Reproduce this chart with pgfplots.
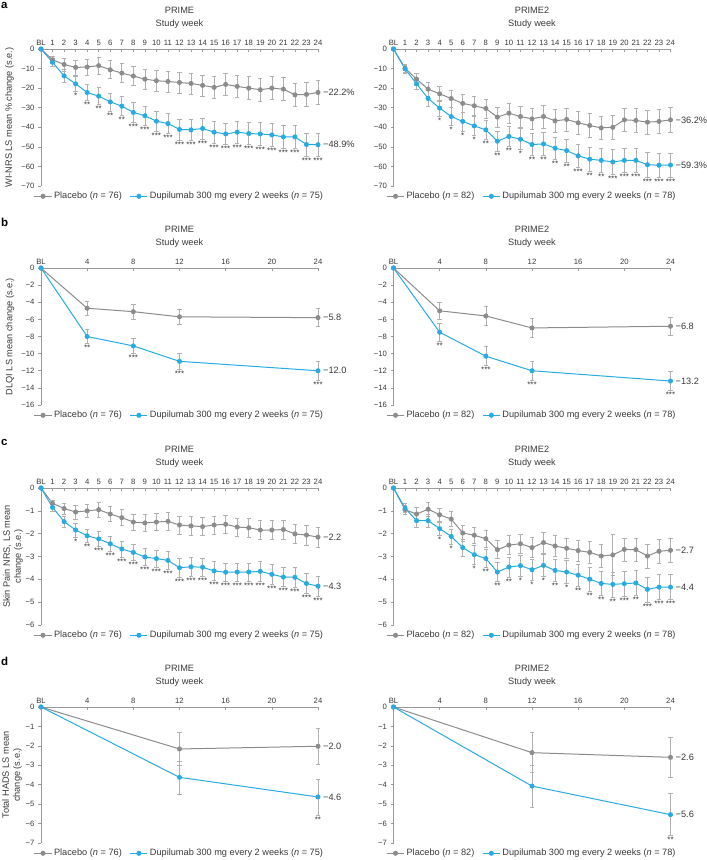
\documentclass[border=0pt]{standalone}
\usepackage{pgfplots}
\pgfplotsset{compat=1.18}
\usepackage{pgfplotstable}
\usepackage{fontspec}
\setmainfont{Liberation Sans}
\definecolor{pgray}{HTML}{8C8C8C}
\definecolor{ebgray}{HTML}{B0B0B0}
\definecolor{dblue}{HTML}{29ABE2}
\definecolor{axgray}{HTML}{9A9A9A}
\definecolor{txt}{HTML}{3A3A3A}

% ---------- Panel a: WI-NRS ----------
\pgfplotstableread{
x y e
0 0 0
1 -5.5 2.0
2 -7.9 3.3
3 -9.4 3.8
4 -9.2 4.0
5 -8.5 4.3
6 -10.6 4.6
7 -12.3 4.8
8 -13.8 5.0
9 -15.4 5.1
10 -16.2 5.2
11 -16.6 5.4
12 -17.1 5.4
13 -17.6 5.4
14 -18.6 5.4
15 -19.6 5.5
16 -18.1 5.5
17 -19.1 5.7
18 -20.0 5.8
19 -20.8 5.8
20 -20.0 5.8
21 -20.5 5.8
22 -23.4 6.0
23 -23.2 6.0
24 -22.2 6.0
}\aPp
\pgfplotstableread{
x y e s
0 0 0 {}
1 -6.8 2.0 {}
2 -13.7 3.4 {}
3 -17.8 3.8 *
4 -22.2 4.0 **
5 -24.1 4.3 **
6 -27.0 4.6 **
7 -29.2 4.8 **
8 -32.4 5.0 ***
9 -34.1 5.0 ***
10 -36.9 5.2 ***
11 -38.1 5.2 ***
12 -41.1 5.3 ***
13 -41.3 5.3 ***
14 -40.6 5.3 ***
15 -42.5 5.5 ***
16 -43.4 5.5 ***
17 -42.5 5.5 ***
18 -43.2 5.7 ***
19 -43.4 5.8 ***
20 -43.9 5.8 ***
21 -44.9 5.8 ***
22 -44.9 6.0 ***
23 -48.8 5.8 ***
24 -48.9 5.8 ***
}\aPd
\pgfplotstableread{
x y e
0 0 0
1 -9.8 2.0
2 -15.4 3.0
3 -20.5 3.5
4 -22.9 4.0
5 -25.3 4.3
6 -27.8 4.5
7 -29.0 4.8
8 -30.4 4.8
9 -34.8 5.0
10 -32.8 5.2
11 -34.5 5.3
12 -35.7 5.5
13 -34.5 5.8
14 -36.7 5.8
15 -36.0 5.8
16 -37.7 6.0
17 -39.1 6.0
18 -40.3 6.0
19 -40.0 6.0
20 -36.2 6.0
21 -36.5 6.0
22 -37.4 6.0
23 -37.0 6.0
24 -36.2 6.3
}\aQp
\pgfplotstableread{
x y e s
0 0 0 {}
1 -10.2 2.0 {}
2 -17.8 3.0 {}
3 -25.3 4.0 {}
4 -30.2 4.0 *
5 -34.5 4.5 *
6 -37.0 4.8 *
7 -39.3 5.0 *
8 -41.3 5.0 **
9 -47.1 5.0 **
10 -44.7 5.2 **
11 -46.1 5.4 *
12 -48.8 5.5 **
13 -48.5 5.8 **
14 -50.7 5.8 **
15 -51.9 5.8 **
16 -54.6 6.0 ***
17 -56.3 6.2 **
18 -56.9 6.2 **
19 -57.7 6.2 ***
20 -56.9 6.2 ***
21 -56.9 6.2 ***
22 -59.1 6.2 ***
23 -59.4 6.2 ***
24 -59.3 6.2 ***
}\aQd

% ---------- Panel b: DLQI ----------
\pgfplotstableread{
x y e
0 0 0
4 -4.7 0.8
8 -5.1 0.9
12 -5.7 0.9
24 -5.8 1.05
}\bPp
\pgfplotstableread{
x y e s
0 0 0 {}
4 -8.0 0.8 **
8 -9.1 0.9 ***
12 -10.9 0.9 ***
24 -12.0 1.1 ***
}\bPd
\pgfplotstableread{
x y e
0 0 0
4 -5.0 1.0
8 -5.6 1.1
12 -7.0 1.1
24 -6.8 1.1
}\bQp
\pgfplotstableread{
x y e s
0 0 0 {}
4 -7.5 1.05 **
8 -10.3 1.1 ***
12 -12.0 1.1 ***
24 -13.2 1.1 ***
}\bQd

% ---------- Panel c: Skin pain NRS ----------
\pgfplotstableread{
x y e
0 0 0
1 -0.67 0.15
2 -0.90 0.25
3 -1.05 0.30
4 -1.00 0.30
5 -0.95 0.32
6 -1.14 0.33
7 -1.30 0.35
8 -1.49 0.35
9 -1.53 0.37
10 -1.49 0.38
11 -1.46 0.40
12 -1.62 0.40
13 -1.66 0.40
14 -1.69 0.40
15 -1.62 0.40
16 -1.59 0.40
17 -1.71 0.40
18 -1.74 0.40
19 -1.84 0.42
20 -1.84 0.42
21 -1.82 0.42
22 -2.01 0.43
23 -2.06 0.43
24 -2.15 0.45
}\cPp
\pgfplotstableread{
x y e s
0 0 0 {}
1 -0.85 0.15 {}
2 -1.47 0.25 {}
3 -1.84 0.30 *
4 -2.09 0.30 **
5 -2.23 0.32 ***
6 -2.44 0.33 ***
7 -2.67 0.35 ***
8 -2.82 0.35 ***
9 -3.02 0.37 ***
10 -3.09 0.38 ***
11 -3.17 0.40 ***
12 -3.49 0.40 ***
13 -3.45 0.40 ***
14 -3.47 0.40 ***
15 -3.63 0.40 ***
16 -3.69 0.40 ***
17 -3.68 0.40 ***
18 -3.68 0.40 ***
19 -3.65 0.42 ***
20 -3.78 0.42 ***
21 -3.90 0.42 ***
22 -3.91 0.43 ***
23 -4.18 0.43 ***
24 -4.30 0.43 ***
}\cPd
\pgfplotstableread{
x y e
0 0 0
1 -0.95 0.20
2 -1.14 0.28
3 -0.93 0.30
4 -1.17 0.30
5 -1.36 0.33
6 -1.97 0.35
7 -2.07 0.37
8 -2.22 0.38
9 -2.70 0.40
10 -2.50 0.42
11 -2.44 0.43
12 -2.61 0.43
13 -2.39 0.45
14 -2.54 0.45
15 -2.64 0.45
16 -2.74 0.47
17 -2.82 0.48
18 -2.98 0.50
19 -2.93 0.90
20 -2.69 0.50
21 -2.70 0.50
22 -2.98 0.52
23 -2.77 0.52
24 -2.73 0.52
}\cQp
\pgfplotstableread{
x y e s
0 0 0 {}
1 -0.88 0.20 {}
2 -1.43 0.28 {}
3 -1.43 0.30 {}
4 -1.78 0.30 *
5 -2.12 0.33 *
6 -2.61 0.38 {}
7 -2.92 0.40 *
8 -3.09 0.40 **
9 -3.68 0.42 **
10 -3.46 0.43 **
11 -3.40 0.45 *
12 -3.58 0.47 *
13 -3.39 0.47 *
14 -3.61 0.48 **
15 -3.68 0.50 *
16 -3.82 0.50 **
17 -3.99 0.52 **
18 -4.18 0.52 **
19 -4.22 0.55 **
20 -4.19 0.55 ***
21 -4.16 0.55 **
22 -4.44 0.55 ***
23 -4.34 0.55 ***
24 -4.34 0.55 ***
}\cQd

% ---------- Panel d: HADS ----------
\pgfplotstableread{
x y e
0 0 0
12 -2.16 0.85
24 -2.02 0.93
}\dPp
\pgfplotstableread{
x y e s
0 0 0 {}
12 -3.62 0.85 {}
24 -4.63 0.93 **
}\dPd
\pgfplotstableread{
x y e
0 0 0
12 -2.35 1.03
24 -2.59 1.03
}\dQp
\pgfplotstableread{
x y e s
0 0 0 {}
12 -4.07 1.08 {}
24 -5.54 1.08 **
}\dQd

\pgfplotsset{
  panel/.style={
    scale only axis, width=277pt, height=137pt, anchor=north west,
    xmin=0, xmax=24, ymax=0, clip=false,
    axis x line*=top, axis y line*=left,
    axis line style={draw=axgray, line width=0.6pt, -},
    tick style={draw=axgray, line width=0.6pt},
    major tick length=3pt,
    xtick align=inside, ytick align=outside,
    tick label style={font=\fontsize{7.7}{9}\selectfont, text=txt},
    legend style={at={(0.5,0)}, anchor=north, yshift=-2pt, draw=none, fill=none,
      font=\fontsize{9.2}{11}\selectfont, text=txt,
      /tikz/every even column/.append style={column sep=6pt}},
    legend columns=2,
  },
  weekly/.style={xtick={0,...,24},
    xticklabels={BL,1,2,3,4,5,6,7,8,9,10,11,12,13,14,15,16,17,18,19,20,21,22,23,24}},
  monthly/.style={xtick={0,4,...,24}, xticklabels={BL,4,8,12,16,20,24}},
  pl/.style={color=pgray, line width=1pt, mark=*, mark size=2pt,
    mark options={solid, fill=pgray},
    error bars/.cd, y dir=both, y explicit,
    error bar style={draw=ebgray, line width=0.6pt},
    error mark options={rotate=90, draw=ebgray, mark size=2.2pt, line width=0.6pt}},
  du/.style={color=dblue, line width=1pt, mark=*, mark size=2pt,
    mark options={solid, fill=dblue},
    error bars/.cd, y dir=both, y explicit,
    error bar style={draw=ebgray, line width=0.6pt},
    error mark options={rotate=90, draw=ebgray, mark size=2.2pt, line width=0.6pt}},
  st/.style={only marks, mark=none, forget plot, nodes near coords,
    point meta=explicit symbolic,
    every node near coord/.append style={font=\fontsize{8}{8}\selectfont, text=txt,
      anchor=north, inner sep=0pt, yshift=-1.5pt}},
}
\newcommand{\elab}[2]{\node[anchor=west, font=\fontsize{9.2}{11}\selectfont, text=txt, inner sep=1pt] at (axis cs:24,#1) [xshift=4pt] {#2};}
\newcommand{\tfont}{\fontsize{9.2}{11}\selectfont}

\begin{document}
\begin{tikzpicture}
\useasboundingbox (0,0) rectangle (707pt,-860pt);

% ===== a =====
\begin{axis}[panel, weekly, at={(41pt,-49pt)}, ymin=-70,
  ytick={-70,-60,...,0}, yticklabels={−70,−60,−50,−40,−30,−20,−10,0}]
\addplot[pl] table[x=x,y=y,y error=e]{\aPp};
\addplot[du] table[x=x,y=y,y error=e]{\aPd};
\addplot[st] table[x=x,y expr=\thisrow{y}-\thisrow{e},meta=s]{\aPd};
\elab{-22.2}{−22.2\%}
\elab{-48.9}{−48.9\%}
\legend{Placebo (\textit{n} = 76), Dupilumab 300 mg every 2 weeks (\textit{n} = 75)}
\end{axis}
\begin{axis}[panel, weekly, at={(393.5pt,-49pt)}, ymin=-70,
  ytick={-70,-60,...,0}, yticklabels={−70,−60,−50,−40,−30,−20,−10,0}]
\addplot[pl] table[x=x,y=y,y error=e]{\aQp};
\addplot[du] table[x=x,y=y,y error=e]{\aQd};
\addplot[st] table[x=x,y expr=\thisrow{y}-\thisrow{e},meta=s]{\aQd};
\elab{-36.2}{−36.2\%}
\elab{-59.3}{−59.3\%}
\legend{Placebo (\textit{n} = 82), Dupilumab 300 mg every 2 weeks (\textit{n} = 78)}
\end{axis}

% ===== b =====
\begin{axis}[panel, monthly, at={(41pt,-268pt)}, ymin=-16,
  ytick={-16,-14,...,0}, yticklabels={−16,−14,−12,−10,−8,−6,−4,−2,0}]
\addplot[pl] table[x=x,y=y,y error=e]{\bPp};
\addplot[du] table[x=x,y=y,y error=e]{\bPd};
\addplot[st] table[x=x,y expr=\thisrow{y}-\thisrow{e},meta=s]{\bPd};
\elab{-5.8}{−5.8}
\elab{-12.0}{−12.0}
\legend{Placebo (\textit{n} = 76), Dupilumab 300 mg every 2 weeks (\textit{n} = 75)}
\end{axis}
\begin{axis}[panel, monthly, at={(393.5pt,-268pt)}, ymin=-16,
  ytick={-16,-14,...,0}, yticklabels={−16,−14,−12,−10,−8,−6,−4,−2,0}]
\addplot[pl] table[x=x,y=y,y error=e]{\bQp};
\addplot[du] table[x=x,y=y,y error=e]{\bQd};
\addplot[st] table[x=x,y expr=\thisrow{y}-\thisrow{e},meta=s]{\bQd};
\elab{-6.8}{−6.8}
\elab{-13.2}{−13.2}
\legend{Placebo (\textit{n} = 82), Dupilumab 300 mg every 2 weeks (\textit{n} = 78)}
\end{axis}

% ===== c =====
\begin{axis}[panel, weekly, at={(41pt,-488pt)}, ymin=-6,
  ytick={-6,...,0}, yticklabels={−6,−5,−4,−3,−2,−1,0}]
\addplot[pl] table[x=x,y=y,y error=e]{\cPp};
\addplot[du] table[x=x,y=y,y error=e]{\cPd};
\addplot[st] table[x=x,y expr=\thisrow{y}-\thisrow{e},meta=s]{\cPd};
\elab{-2.15}{−2.2}
\elab{-4.3}{−4.3}
\legend{Placebo (\textit{n} = 76), Dupilumab 300 mg every 2 weeks (\textit{n} = 75)}
\end{axis}
\begin{axis}[panel, weekly, at={(393.5pt,-488pt)}, ymin=-6,
  ytick={-6,...,0}, yticklabels={−6,−5,−4,−3,−2,−1,0}]
\addplot[pl] table[x=x,y=y,y error=e]{\cQp};
\addplot[du] table[x=x,y=y,y error=e]{\cQd};
\addplot[st] table[x=x,y expr=\thisrow{y}-\thisrow{e},meta=s]{\cQd};
\elab{-2.73}{−2.7}
\elab{-4.34}{−4.4}
\legend{Placebo (\textit{n} = 82), Dupilumab 300 mg every 2 weeks (\textit{n} = 78)}
\end{axis}

% ===== d =====
\begin{axis}[panel, monthly, at={(41pt,-707pt)}, height=136pt, ymin=-7,
  ytick={-7,...,0}, yticklabels={−7,−6,−5,−4,−3,−2,−1,0}]
\addplot[pl] table[x=x,y=y,y error=e]{\dPp};
\addplot[du] table[x=x,y=y,y error=e]{\dPd};
\addplot[st] table[x=x,y expr=\thisrow{y}-\thisrow{e},meta=s]{\dPd};
\elab{-2.02}{−2.0}
\elab{-4.63}{−4.6}
\legend{Placebo (\textit{n} = 76), Dupilumab 300 mg every 2 weeks (\textit{n} = 75)}
\end{axis}
\begin{axis}[panel, monthly, at={(393.5pt,-707pt)}, height=136pt, ymin=-7,
  ytick={-7,...,0}, yticklabels={−7,−6,−5,−4,−3,−2,−1,0}]
\addplot[pl] table[x=x,y=y,y error=e]{\dQp};
\addplot[du] table[x=x,y=y,y error=e]{\dQd};
\addplot[st] table[x=x,y expr=\thisrow{y}-\thisrow{e},meta=s]{\dQd};
\elab{-2.59}{−2.6}
\elab{-5.54}{−5.6}
\legend{Placebo (\textit{n} = 82), Dupilumab 300 mg every 2 weeks (\textit{n} = 78)}
\end{axis}

% ===== titles, labels, panel letters =====
\foreach \yy in {0, 219, 439, 658}{
  \node[font=\tfont, text=txt] at (179.5pt,-10pt-\yy pt) {PRIME};
  \node[font=\tfont, text=txt] at (179.5pt,-24.5pt-\yy pt) {Study week};
  \node[font=\tfont, text=txt] at (532pt,-10pt-\yy pt) {PRIME2};
  \node[font=\tfont, text=txt] at (532pt,-24.5pt-\yy pt) {Study week};
}
\node[anchor=base west, inner sep=0pt, font=\bfseries\fontsize{11.5}{12}\selectfont] at (1pt,-8.5pt) {a};
\node[anchor=base west, inner sep=0pt, font=\bfseries\fontsize{11.5}{12}\selectfont] at (1pt,-226pt) {b};
\node[anchor=base west, inner sep=0pt, font=\bfseries\fontsize{11.5}{12}\selectfont] at (1pt,-445.5pt) {c};
\node[anchor=base west, inner sep=0pt, font=\bfseries\fontsize{11.5}{12}\selectfont] at (1pt,-665pt) {d};

\node[rotate=90, font=\tfont, text=txt] at (9.5pt,-117.5pt) {WI-NRS LS mean \% change (s.e.)};
\node[rotate=90, font=\tfont, text=txt] at (10pt,-336.5pt) {DLQI LS mean change (s.e.)};
\node[rotate=90, font=\tfont, text=txt, align=center] at (13pt,-556.5pt) {Skin Pain NRS, LS mean\\change (s.e.)};
\node[rotate=90, font=\tfont, text=txt, align=center] at (12pt,-775pt) {Total HADS LS mean\\change (s.e.)};
\end{tikzpicture}
\end{document}
